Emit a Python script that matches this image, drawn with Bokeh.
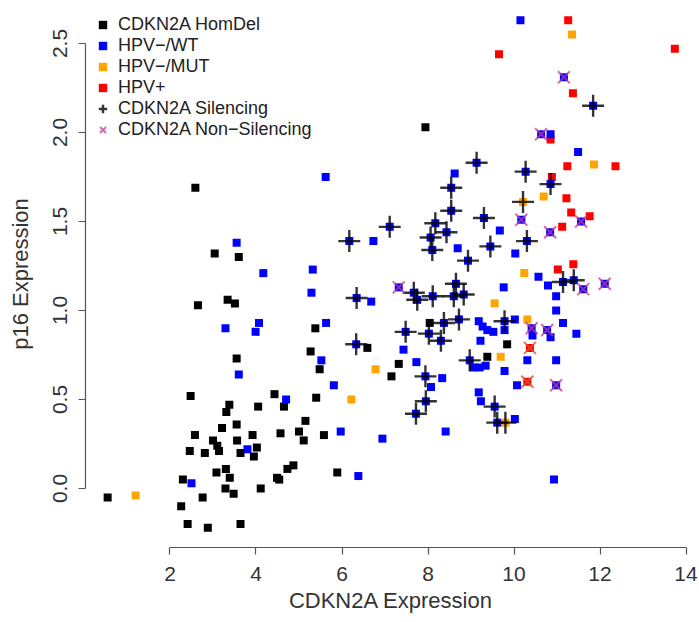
import math
from bokeh.plotting import figure
from bokeh.models import Range1d, FixedTicker, Legend, LegendItem, PrintfTickFormatter
from bokeh.embed import file_html
from bokeh.resources import INLINE

# ---------------- data ----------------
# CDKN2A HomDel (black)
homdel_x = [3.04, 3.60, 2.59, 2.65, 3.34, 3.51, 5.38, 5.27, 3.55, 5.48, 6.59, 7.32, 7.15, 2.48, 4.43,
            4.65, 4.05, 5.40, 3.38, 3.31, 5.15, 3.55, 3.21, 2.58, 3.00, 3.10, 3.56, 3.92, 4.57, 5.00,
            5.11, 5.58, 2.46, 2.81, 3.14, 3.64, 4.02, 3.95, 3.08, 3.30, 3.39, 4.49, 4.73, 4.87, 4.54,
            5.89, 2.30, 3.29, 3.48, 4.11, 2.76, 2.26, 2.41, 2.88, 3.64, 0.55, 7.94, 8.04, 9.38, 9.84]
homdel_y = [1.32, 1.30, 1.69, 1.03, 1.06, 1.04, 0.90, 0.77, 0.73, 0.67, 0.79, 0.70, 0.63, 0.52, 0.53,
            0.46, 0.46, 0.51, 0.47, 0.43, 0.38, 0.36, 0.34, 0.30, 0.27, 0.24, 0.27, 0.30, 0.31, 0.32,
            0.27, 0.30, 0.21, 0.20, 0.21, 0.20, 0.23, 0.18, 0.09, 0.11, 0.06, 0.06, 0.11, 0.13, 0.05,
            0.09, 0.05, 0.00, -0.03, 0.00, -0.05, -0.10, -0.20, -0.22, -0.20, -0.05, 2.03, 0.93, 0.74, 0.81]

# HPV-/WT (blue), points without an overlaid symbol
wt_x = [10.15, 10.85, 11.49, 8.62, 5.62, 6.73, 8.69, 9.67, 10.03, 3.55, 4.17, 5.32, 5.29, 6.68, 3.29,
        4.07, 3.99, 5.63, 5.52, 3.60, 5.81, 4.70, 5.97, 6.94, 3.80, 6.38, 2.50, 10.57, 10.79, 9.76,
        10.98, 10.98, 11.14, 11.45, 9.18, 10.02, 10.85, 10.43, 9.27, 9.38, 9.52, 9.22, 9.78, 7.43, 10.31,
        10.98, 7.73, 9.06, 9.20, 9.34, 9.78, 8.07, 8.33, 10.07, 9.18, 9.23, 10.02, 8.41, 10.93]
wt_y = [2.63, 1.99, 1.89, 1.77, 1.75, 1.39, 1.35, 1.45, 1.32, 1.38, 1.21, 1.23, 1.10, 1.05, 0.90,
        0.93, 0.88, 0.93, 0.72, 0.64, 0.58, 0.50, 0.32, 0.28, 0.22, 0.07, 0.03, 1.19, 1.14, 1.13,
        1.08, 1.00, 0.93, 0.87, 0.94, 0.95, 0.85, 0.86, 0.91, 0.89, 0.88, 0.83, 0.89, 0.78, 0.72,
        0.72, 0.71, 0.68, 0.68, 0.69, 0.66, 0.57, 0.62, 0.58, 0.54, 0.49, 0.39, 0.32, 0.05]

# HPV-/MUT (orange)
mut_x = [11.35, 11.86, 10.69, 10.24, 9.55, 10.31, 9.69, 6.78, 6.22, 1.20]
mut_y = [2.55, 1.82, 1.64, 1.21, 1.04, 0.95, 0.74, 0.67, 0.50, -0.04]

# HPV+ (red)
hpv_x = [11.26, 9.65, 13.74, 11.37, 10.85, 11.24, 12.36, 10.88, 11.22, 11.33, 11.76, 11.12, 11.02, 11.38]
hpv_y = [2.63, 2.44, 2.47, 2.22, 1.96, 1.81, 1.81, 1.75, 1.63, 1.55, 1.53, 1.47, 1.23, 1.26]

# CDKN2A Silencing (+), with the group of the square beneath
sil_x = [9.13, 8.54, 8.54, 7.11, 8.17, 8.43, 8.06, 8.10, 8.93, 9.30, 9.45, 6.17, 10.27, 10.85, 10.21,
         10.30, 11.84, 6.34, 6.33, 11.14, 11.39, 7.67, 7.75, 8.11, 8.65, 8.60, 8.83, 7.48, 8.02, 8.37,
         8.30, 8.72, 9.78, 8.97, 7.94, 7.95, 7.72, 9.55, 9.61, 9.80]
sil_y = [1.83, 1.69, 1.56, 1.47, 1.49, 1.44, 1.41, 1.34, 1.28, 1.52, 1.36, 1.39, 1.78, 1.71, 1.61,
         1.39, 2.15, 1.07, 0.81, 1.16, 1.17, 1.10, 1.06, 1.08, 1.15, 1.08, 1.09, 0.88, 0.87, 0.93,
         0.83, 0.95, 0.94, 0.72, 0.63, 0.49, 0.42, 0.46, 0.37, 0.37]
sil_group = ["WT"] * 14 + ["MUT"] + ["WT"] * 24 + ["MUT"]

# CDKN2A Non-Silencing (x)
nonsil_x = [11.16, 10.63, 11.56, 10.17, 10.84, 7.32, 11.61, 12.11, 10.41, 10.77, 10.98, 10.37, 10.31]
nonsil_y = [2.31, 1.99, 1.50, 1.51, 1.44, 1.13, 1.12, 1.15, 0.90, 0.89, 0.58, 0.79, 0.60]
nonsil_group = ["WT"] * 11 + ["HPV"] * 2

x_ticks = [2, 4, 6, 8, 10, 12, 14]
y_ticks = [0.0, 0.5, 1.0, 1.5, 2.0, 2.5]

# ---------------- build square layers ----------------
def with_overlaid(gx, gy, name):
    xs, ys = list(gx), list(gy)
    for x, y, g in zip(sil_x, sil_y, sil_group):
        if g == name:
            xs.append(x); ys.append(y)
    for x, y, g in zip(nonsil_x, nonsil_y, nonsil_group):
        if g == name:
            xs.append(x); ys.append(y)
    return xs, ys

wt_all_x, wt_all_y = with_overlaid(wt_x, wt_y, "WT")
mut_all_x, mut_all_y = with_overlaid(mut_x, mut_y, "MUT")
hpv_all_x, hpv_all_y = with_overlaid(hpv_x, hpv_y, "HPV")

FONT = "Liberation Sans"
FRAME_H = 547

p = figure(frame_width=611, frame_height=FRAME_H,
           x_range=Range1d(0.035, 14.244), y_range=Range1d(-0.3315, 2.7416),
           output_backend="svg", toolbar_location=None,
           min_border_left=85, min_border_right=2, min_border_top=0, min_border_bottom=74)
p.grid.visible = False
p.outline_line_color = None
p.background_fill_color = "white"
p.border_fill_color = "white"

SQ = 8
r_black = p.scatter(homdel_x, homdel_y, marker="square", size=SQ, fill_color="black", line_color=None)
r_red = p.scatter(hpv_all_x, hpv_all_y, marker="square", size=SQ, fill_color="#FF0000", line_color=None)
r_orange = p.scatter(mut_all_x, mut_all_y, marker="square", size=SQ, fill_color="#FFA500", line_color=None)
r_blue = p.scatter(wt_all_x, wt_all_y, marker="square", size=SQ, fill_color="#0000FF", line_color=None)

ns_main_x = [x for x, g in zip(nonsil_x, nonsil_group) if g == "WT"]
ns_main_y = [y for y, g in zip(nonsil_y, nonsil_group) if g == "WT"]
ns_hpv_x = [x for x, g in zip(nonsil_x, nonsil_group) if g == "HPV"]
ns_hpv_y = [y for y, g in zip(nonsil_y, nonsil_group) if g == "HPV"]

r_sil = p.scatter(sil_x, sil_y, marker="cross", size=22, line_color="black", line_width=2.4, line_alpha=0.8)
r_ns = p.scatter(ns_main_x, ns_main_y, marker="x", size=17, line_color="#C0399C", line_width=2, line_alpha=0.75)
p.scatter(ns_hpv_x, ns_hpv_y, marker="x", size=17, line_color="#E0502A", line_width=2, line_alpha=0.8)

# axes
for ax in (p.xaxis[0], p.yaxis[0]):
    ax.axis_line_color = "#555555"
    ax.major_tick_line_color = "#555555"
    ax.axis_line_width = 1.2
    ax.major_tick_line_width = 1.2
    ax.major_tick_out = 7
    ax.major_tick_in = 0
    ax.minor_tick_line_color = None
    ax.major_label_text_font = FONT
    ax.major_label_text_font_size = "21px"
    ax.major_label_text_color = "#333333"
    ax.axis_label_text_font = FONT
    ax.axis_label_text_font_size = "22px"
    ax.axis_label_text_font_style = "normal"
    ax.axis_label_text_color = "#333333"

p.xaxis.ticker = FixedTicker(ticks=x_ticks)
p.xaxis.bounds = (2, 14)
p.xaxis.axis_label = "CDKN2A Expression"
p.xaxis.major_label_standoff = 12
p.xaxis.axis_label_standoff = 4

p.yaxis.ticker = FixedTicker(ticks=y_ticks)
p.yaxis.formatter = PrintfTickFormatter(format="%.1f")
p.yaxis.bounds = (0, 2.5)
p.yaxis.axis_label = "p16 Expression"
p.yaxis.major_label_orientation = "vertical"
p.yaxis.major_label_standoff = 11
p.yaxis.axis_label_standoff = 18

PAD = 3
ROW = 21
leg_h = 6 * ROW + 2 * PAD
legend = Legend(items=[
    LegendItem(label="CDKN2A HomDel", renderers=[r_black]),
    LegendItem(label="HPV\u2212/WT", renderers=[r_blue]),
    LegendItem(label="HPV\u2212/MUT", renderers=[r_orange]),
    LegendItem(label="HPV+", renderers=[r_red]),
    LegendItem(label="CDKN2A Silencing", renderers=[r_sil]),
    LegendItem(label="CDKN2A Non\u2212Silencing", renderers=[r_ns]),
], location=(4, FRAME_H - 8 - leg_h), margin=0, padding=PAD, spacing=0,
   glyph_width=27, glyph_height=ROW, label_height=ROW, label_standoff=2,
   label_text_font=FONT, label_text_font_size="18px", label_text_color="#222222",
   background_fill_alpha=0, border_line_color=None)
p.add_layout(legend)

open("out.html", "w").write(file_html(p, INLINE))
